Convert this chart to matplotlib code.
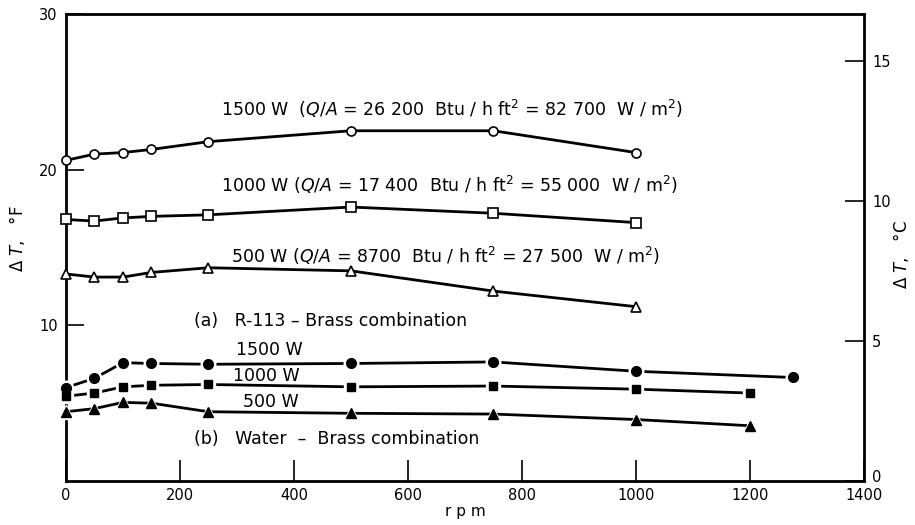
import matplotlib
matplotlib.use("Agg")
import matplotlib.pyplot as plt
from matplotlib.transforms import ScaledTranslation

# Rotational speed (rpm) and surface-to-liquid temperature difference (deg F)
rpm_r113 = [0, 50, 100, 150, 250, 500, 750, 1000]
r113_1500 = [20.6, 21.0, 21.1, 21.3, 21.8, 22.5, 22.5, 21.1]
r113_1000 = [16.8, 16.7, 16.9, 17.0, 17.1, 17.6, 17.2, 16.6]
r113_500 = [13.3, 13.1, 13.1, 13.4, 13.7, 13.5, 12.2, 11.2]

rpm_water_1500 = [0, 50, 100, 150, 250, 500, 750, 1000, 1275]
water_1500 = [6.0, 6.6, 7.6, 7.55, 7.5, 7.55, 7.65, 7.05, 6.65]
rpm_water = [0, 50, 100, 150, 250, 500, 750, 1000, 1200]
water_1000 = [5.45, 5.65, 6.05, 6.15, 6.2, 6.05, 6.1, 5.9, 5.65]
water_500 = [4.45, 4.65, 5.05, 5.0, 4.45, 4.35, 4.3, 3.95, 3.55]

x_ticks = [0, 200, 400, 600, 800, 1000, 1200, 1400]
yF_ticks = [10, 20, 30]
yC_ticks = [0, 5, 10, 15]

plt.rcParams["font.family"] = "DejaVu Sans"
plt.rcParams["mathtext.fontset"] = "dejavusans"

fig = plt.figure(figsize=(9.15, 5.25), dpi=100)
ax = fig.add_axes([0.0721, 0.0838, 0.8721, 0.8895])

lw = 2.0
# R-113: open markers joined by solid lines
for y, m, s in [(r113_1500, "o", 6.5), (r113_1000, "s", 6.5), (r113_500, "^", 7)]:
    ax.plot(rpm_r113, y, "-", color="black", lw=lw, marker=m, ms=s,
            mfc="white", mec="black", mew=1.2, clip_on=False, zorder=3)

# Water: solid markers with a small white gap where the line meets them
for x, y, m, s in [(rpm_water_1500, water_1500, "o", 7),
                   (rpm_water, water_1000, "s", 6),
                   (rpm_water, water_500, "^", 7)]:
    ax.plot(x, y, "-", color="black", lw=lw, clip_on=False, zorder=2)
    ax.plot(x, y, ls="none", marker=m, ms=s + 3.5, mfc="white", mec="white",
            clip_on=False, zorder=3)
    ax.plot(x, y, ls="none", marker=m, ms=s, mfc="black", mec="black",
            clip_on=False, zorder=4)

ax.set_xlim(0, 1400)
ax.set_ylim(0, 30)

ax.set_xticks(x_ticks)
ax.set_xticklabels([str(v) for v in x_ticks])
ax.set_yticks(yF_ticks)
ax.set_yticklabels([str(v) for v in yF_ticks])
ax.tick_params(axis="x", direction="in", length=15, width=1.2,
               labelsize=10.5, pad=5)
ax.tick_params(axis="y", direction="in", length=13, width=1.2,
               labelsize=10.5, pad=6)
for sp in ax.spines.values():
    sp.set_linewidth(2.0)

# Celsius scale on the right
axc = ax.twinx()
axc.set_ylim(0, 30 / 1.8)
axc.set_yticks(yC_ticks)
axc.set_yticklabels([str(v) for v in yC_ticks])
axc.tick_params(axis="y", direction="in", length=14, width=1.2,
                labelsize=10.5, pad=6)
for sp in axc.spines.values():
    sp.set_visible(False)
# lift the bottom Celsius label so it sits just above "1400"
zero_lbl = axc.get_yticklabels()[0]
zero_lbl.set_transform(zero_lbl.get_transform()
                       + ScaledTranslation(0, 5 / 100, fig.dpi_scale_trans))

ax.set_xlabel("r p m", fontsize=11, labelpad=1)
fig.text(0.019, 0.545, r"$\Delta$ $T$,   °F", rotation=90, fontsize=12,
         ha="center", va="center")
fig.text(0.985, 0.515, r"$\Delta$ $T$,   °C", rotation=90, fontsize=12,
         ha="center", va="center")

fs = 12.5
ax.text(272, 23.9, r"1500 W  ($\it{Q/A}$ = 26 200  Btu / h ft$^2$ = 82 700  W / m$^2$)",
        fontsize=fs, va="center")
ax.text(272, 19.0, r"1000 W ($\it{Q/A}$ = 17 400  Btu / h ft$^2$ = 55 000  W / m$^2$)",
        fontsize=fs, va="center")
ax.text(290, 14.45, r"500 W ($\it{Q/A}$ = 8700  Btu / h ft$^2$ = 27 500  W / m$^2$)",
        fontsize=fs, va="center")
ax.text(225, 10.3, "(a)   R-113 – Brass combination", fontsize=fs, va="center")
ax.text(298, 8.4, "1500 W", fontsize=fs, va="center")
ax.text(293, 6.75, "1000 W", fontsize=fs, va="center")
ax.text(310, 5.1, "500 W", fontsize=fs, va="center")
ax.text(225, 2.7, "(b)   Water  –  Brass combination", fontsize=fs, va="center")

fig.savefig("out.png", dpi=100)
